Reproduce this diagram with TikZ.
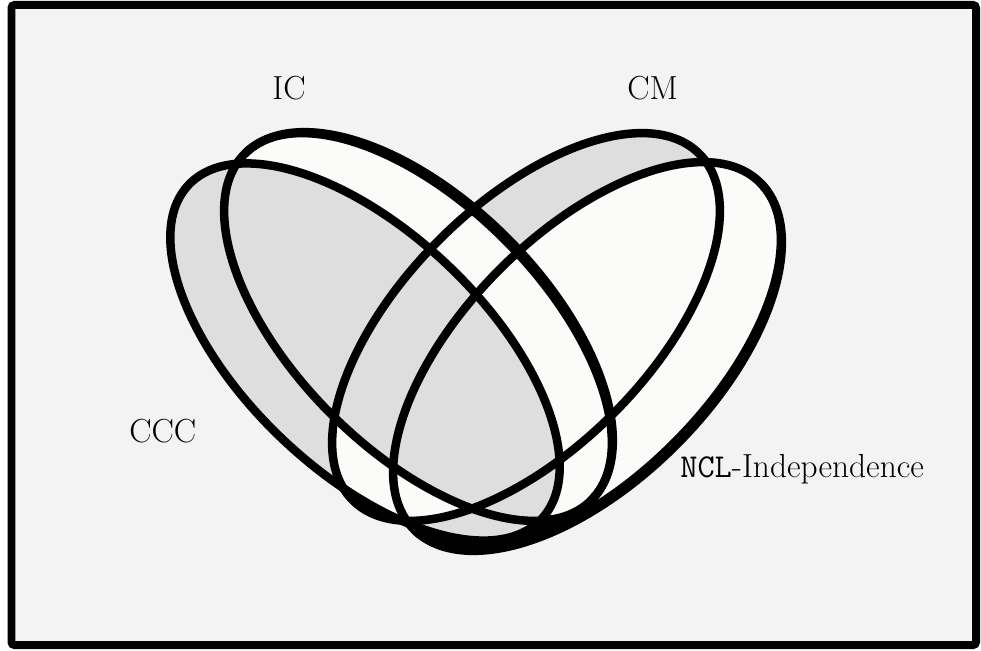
\documentclass[tikz,border=0pt]{standalone}

\definecolor{bgfill}{HTML}{F3F3F3}
\definecolor{regiongray}{HTML}{DEDEDE}
\definecolor{regionwhite}{HTML}{FBFBFA}

\begin{document}
\begin{tikzpicture}[
  x=0.02cm, y=0.02cm,
  venn/.style={line width=0.17cm},
  rad/.style={x radius=245, y radius=123},
  radc/.style={x radius=243, y radius=120},
  lhs/.style={rotate around={-45:(#1)}},
  lhc/.style={rotate around={-43.5:(#1)}},
  rhs/.style={rotate around={45:(#1)}},
  lab/.style={anchor=base west, inner sep=0pt, font=\fontsize{19}{22}\selectfont}
]
  \useasboundingbox (0,0) rectangle (981,650);
  \draw[line width=0.16cm, fill=bgfill, rounded corners=0.06cm] (11.5,5) rectangle (976,645);

  % centres of the four sets
  \coordinate (ccc) at (365,298);
  \coordinate (ic)  at (418,323);
  \coordinate (cm)  at (526,323);
  \coordinate (ncl) at (587,294);

  % shading of the regions
  \fill[regiongray, rhs=cm] (cm) ellipse [rad];
  \fill[regionwhite, lhs=ic] (ic) ellipse [rad];
  \fill[regionwhite, rhs=ncl] (ncl) ellipse [rad];
  \fill[regiongray, lhc=ccc] (ccc) ellipse [radc];
  \begin{scope}
    \clip[lhc=ccc] (ccc) ellipse [radc];
    \clip[rhs=cm] (cm) ellipse [rad];
    \fill[regionwhite] (0,0) rectangle (981,650);
    \clip[lhs=ic] (ic) ellipse [rad];
    \fill[regiongray] (0,0) rectangle (981,650);
  \end{scope}

  % the two bottoms run together
  \begin{scope}
    \clip[rhs=ncl] (ncl) ellipse [rad];
    \clip (390,0) rectangle (570,135);
    \begin{scope}[shift={(ccc)}, rotate=-43.5]
      \fill[even odd rule] (-600,-600) rectangle (600,600) (0,0) ellipse [radc];
    \end{scope}
  \end{scope}

  % outlines
  \draw[venn, lhc=ccc] (ccc) ellipse [radc];
  \foreach \s/\a in {ic/-45, cm/45, ncl/45}
    \draw[venn, rotate around={\a:(\s)}] (\s) ellipse [rad];
  % heavier outer edges of IC and NCL
  \begin{scope}[shift={(ic)}, rotate=-45]
    \clip (-300,0) rectangle (300,200);
    \draw[venn] (0,0) ellipse [x radius=245, y radius=126];
  \end{scope}
  \begin{scope}[shift={(ncl)}, rotate=45]
    \clip (-300,-200) rectangle (300,0);
    \draw[venn] (0,0) ellipse [x radius=245, y radius=126];
  \end{scope}

  \node[lab] (icLabel)  at (272,550) {IC};
  \node[lab] (cmLabel)  at (627,550) {CM};
  \node[lab] (cccLabel) at (129,208) {CCC};
  \node[lab] (nclLabel) at (680,173) {\texttt{NCL}-Independence};
\end{tikzpicture}
\end{document}
